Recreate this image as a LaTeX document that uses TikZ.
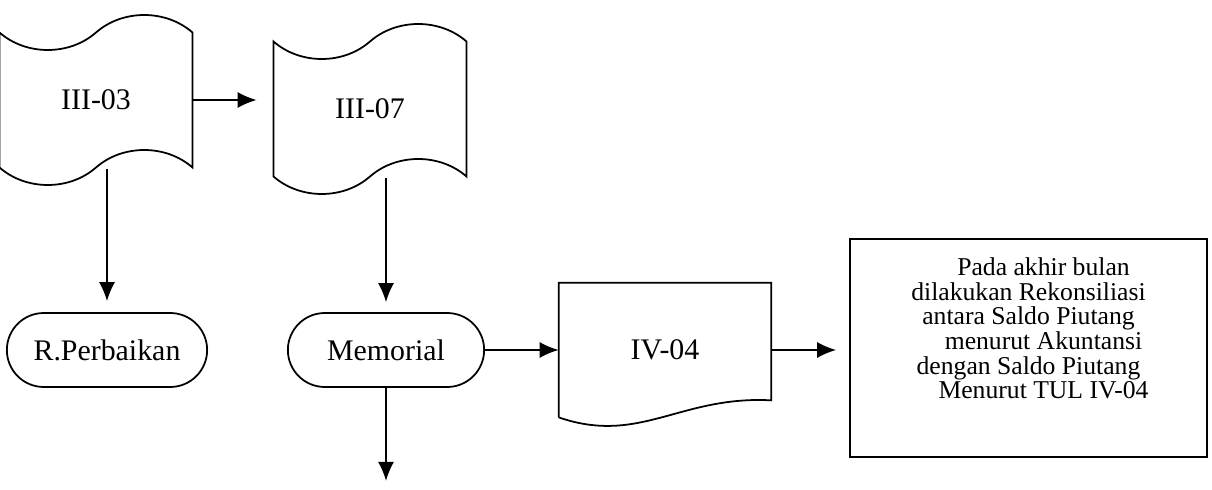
\documentclass[tikz,border=0pt]{standalone}
\usepackage{fontspec}
\setmainfont{Liberation Serif}
\usetikzlibrary{positioning,arrows.meta,shapes.symbols,shapes.misc}

\begin{document}
\begin{tikzpicture}[
  tapedoc/.style={tape, draw, line width=1pt, minimum width=3.86cm,
    minimum height=3.4cm, tape bend height=0.7cm,
    font=\fontsize{17}{20}\selectfont},
  terminal/.style={rounded rectangle, draw, line width=1pt,
    minimum height=1.48cm, font=\fontsize{17}{20}\selectfont},
  docbox/.style={minimum width=4.24cm, minimum height=2.68cm,
    inner sep=0pt, font=\fontsize{17}{20}\selectfont},
  notebox/.style={draw, line width=1pt, minimum width=7.14cm,
    minimum height=4.36cm},
  notetext/.style={align=center, font=\fontsize{14.6}{14}\selectfont},
  flow/.style={-{Latex[length=0.38cm,width=0.32cm]}, line width=0.9pt},
]
  \useasboundingbox (0,0) rectangle (24.24,9.78);

  % documents on top
  \node[tapedoc] (iii03) at (1.92,7.78) {III-03};
  \node[tapedoc] (iii07) at (7.40,7.60) {III-07};

  % terminals
  \node[terminal, minimum width=4.24cm] (rperb) at (2.14,2.78) {R.Perbaikan};
  \node[terminal, minimum width=4.16cm] (memorial) at (7.72,2.78) {Memorial};

  % document IV-04 with wavy bottom
  \node[docbox] (iv04) at (13.30,2.78) {IV-04};
  \draw[line width=1pt] (iv04.south west) -- (iv04.north west) -- (iv04.north east)
    -- ([yshift=0.34cm]iv04.south east)
    .. controls +(-1.82,0.1) and +(1.62,-0.56) .. (iv04.south west);

  % reconciliation note
  \node[notebox] (recon) at (20.57,2.82) {};
  \node[notetext] (recontext) at ([yshift=0.39cm]recon.center)
    {\hspace*{0.6cm}Pada akhir bulan\\
     dilakukan Rekonsiliasi\\
     antara Saldo Piutang\\
     \hspace*{0.6cm}menurut Akuntansi\\
     dengan Saldo Piutang\\
     \hspace*{0.6cm}Menurut TUL IV-04};

  \coordinate[below=1.86cm of memorial.south] (memoout);

  % connectors
  \draw[flow, shorten >=0.32cm] (iii03.east) -- (iii03.east -| iii07.west);
  \draw[flow, shorten >=0.22cm] (iii03.south -| rperb.north) -- (rperb.north);
  \draw[flow, shorten >=0.2cm] (iii07.south -| memorial.north) -- (memorial.north);
  \draw[flow] (memorial.east) -- (memorial.east -| iv04.west);
  \draw[flow, shorten >=0.26cm] (iv04.east) -- (iv04.east -| recon.west);
  \draw[flow] (memorial.south) -- (memoout);
\end{tikzpicture}
\end{document}
